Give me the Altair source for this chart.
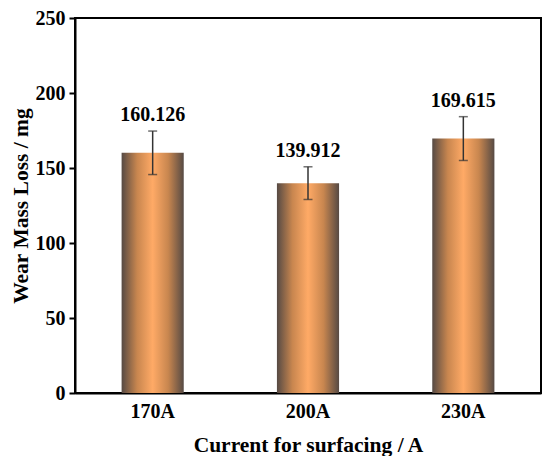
import altair as alt
import pandas as pd

categories = ["170A", "200A", "230A"]
means = [160.126, 139.912, 169.615]
errors = [14.5, 10.9, 14.6]
labels = ["160.126", "139.912", "169.615"]

df = pd.DataFrame({"cat": categories, "mean": means, "err": errors, "label": labels})
df["lo"] = df["mean"] - df["err"]
df["hi"] = df["mean"] + df["err"]

FONT = "Liberation Serif, Times New Roman, serif"

xenc = alt.X("cat:N", sort=categories, title="Current for surfacing / A",
             scale=alt.Scale(paddingInner=0.6, paddingOuter=0.3),
             axis=alt.Axis(labelAngle=0, ticks=False, labelPadding=8, titlePadding=13))
yscale = alt.Scale(domain=[0, 250], nice=False)

grad = alt.Gradient(
    gradient="linear", x1=0, x2=1, y1=0, y2=0,
    stops=[
        alt.GradientStop(offset=0, color="#564a44"),
        alt.GradientStop(offset=0.25, color="#c8864f"),
        alt.GradientStop(offset=0.5, color="#ffaa66"),
        alt.GradientStop(offset=0.75, color="#c8864f"),
        alt.GradientStop(offset=1, color="#564a44"),
    ],
)

base = alt.Chart(df)

bars = base.mark_bar(color=grad).encode(
    x=xenc,
    y=alt.Y("mean:Q", scale=yscale, title="Wear Mass Loss / mg",
            axis=alt.Axis(values=[0, 50, 100, 150, 200, 250], grid=False,
                          tickSize=6, tickWidth=2, labelPadding=4, titlePadding=3)),
)

rule = base.mark_rule(color="#333333", strokeWidth=1.5).encode(
    x=xenc, y=alt.Y("lo:Q", scale=yscale), y2="hi:Q"
)
cap_hi = base.mark_tick(color="#333333", size=9, thickness=1.5, orient="horizontal").encode(
    x=xenc, y=alt.Y("hi:Q", scale=yscale)
)
cap_lo = base.mark_tick(color="#333333", size=9, thickness=1.5, orient="horizontal").encode(
    x=xenc, y=alt.Y("lo:Q", scale=yscale)
)
text = base.mark_text(font=FONT, fontSize=20, fontWeight="bold", baseline="bottom",
                      dy=-6, color="black").encode(
    x=xenc, y=alt.Y("hi:Q", scale=yscale), text="label:N"
)

chart = alt.layer(bars, rule, cap_hi, cap_lo, text).properties(
    width=466, height=375,
    autosize=alt.AutoSizeParams(type="none"),
    padding={"left": 67, "top": 10, "right": 1, "bottom": 63},
    background="white",
).configure_view(stroke="black", strokeWidth=2).configure_axis(
    labelFont=FONT, titleFont=FONT, labelFontSize=20, titleFontSize=21.5,
    labelFontWeight="bold", titleFontWeight="bold", labelColor="black",
    titleColor="black", domainColor="black", domainWidth=2, tickColor="black",
)

chart.save("out.html", embed_options={"renderer": "svg", "actions": False})
